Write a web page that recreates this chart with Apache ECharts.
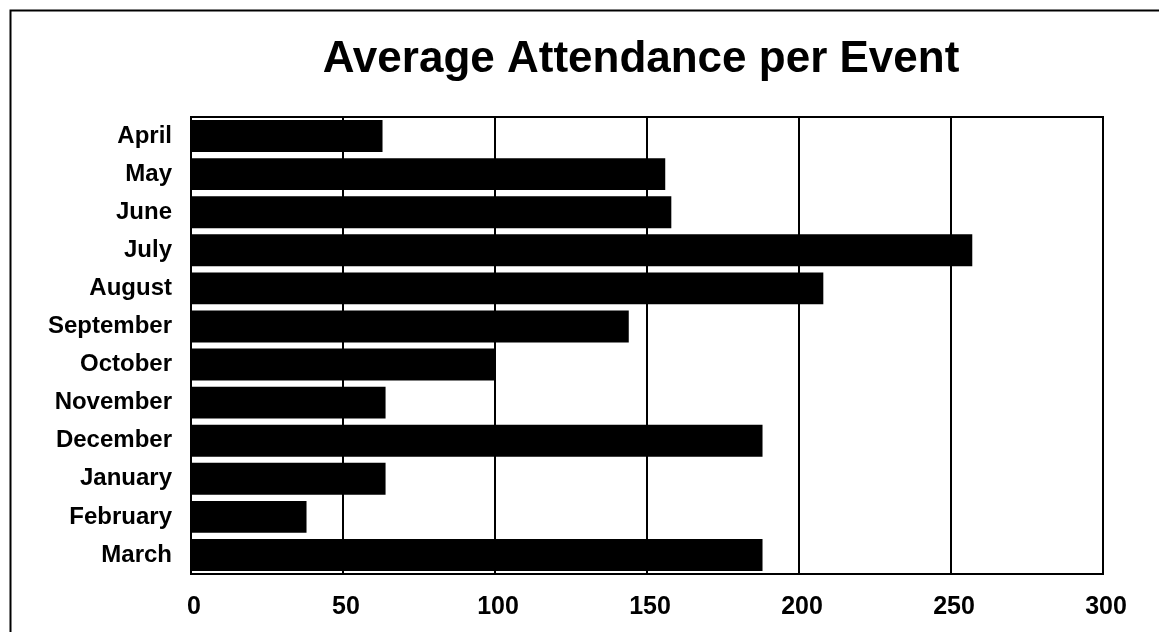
<!DOCTYPE html>
<html>
<head>
<meta charset="utf-8">
<script src="https://cdn.jsdelivr.net/npm/echarts@6/dist/echarts.min.js"></script>
<style>html,body{margin:0;padding:0;background:#fff}#c{width:1159px;height:632px}</style>
</head>
<body>
<div id="c"></div>
<script>
const titleText = 'Average Attendance per Event';
const months = ['April','May','June','July','August','September','October','November','December','January','February','March'];
const attendance = [63, 156, 158, 257, 208, 144, 100, 64, 188, 64, 38, 188];
const xTicks = [0, 50, 100, 150, 200, 250, 300];

const chart = echarts.init(document.getElementById('c'), null, {renderer: 'canvas'});
const font = '"Liberation Sans", Arial, sans-serif';
chart.setOption({
  animation: false,
  backgroundColor: '#fff',
  graphic: [{
    type: 'rect', left: 8, top: 8, z: -10,
    shape: {x: 0, y: 0, width: 1170, height: 640},
    style: {fill: 'none', stroke: '#000', lineWidth: 2}
  }],
  title: {
    text: titleText, left: 636, top: 33, textAlign: 'center',
    textStyle: {fontFamily: font, fontWeight: 'bold', fontSize: 44, lineHeight: 44, color: '#000'}
  },
  grid: {left: 191, right: 56, top: 117, bottom: 58, show: true, borderColor: '#000', borderWidth: 2, backgroundColor: 'transparent', containLabel: false},
  xAxis: {
    type: 'value', min: xTicks[0], max: xTicks[xTicks.length - 1], interval: 50,
    axisLine: {show: true, lineStyle: {color: '#000', width: 2}},
    axisTick: {show: false},
    splitLine: {show: true, lineStyle: {color: '#000', width: 2}},
    axisLabel: {margin: 21, fontFamily: font, fontWeight: 'bold', fontSize: 25, color: '#000', padding: [0, 0, 0, 6]}
  },
  yAxis: {
    type: 'category', data: months, inverse: true,
    axisLine: {show: true, lineStyle: {color: '#000', width: 2}},
    axisTick: {show: false},
    axisLabel: {margin: 19, fontFamily: font, fontWeight: 'bold', fontSize: 24, color: '#000'}
  },
  series: [{
    type: 'bar', data: attendance, barCategoryGap: '16%',
    itemStyle: {color: '#000'}
  }]
});
</script>
</body>
</html>
